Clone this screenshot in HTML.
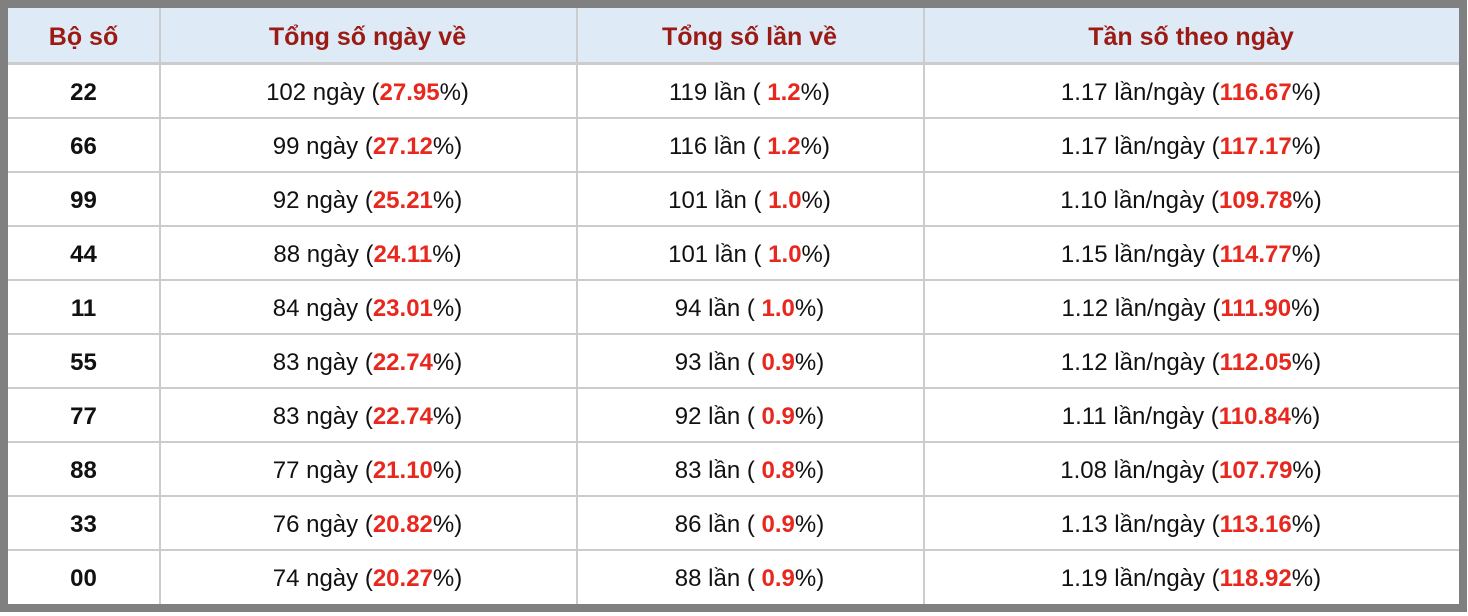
<!DOCTYPE html>
<html><head><meta charset="utf-8"><style>
body{margin:0;width:1468px;height:616px;background:#fff;overflow:hidden;font-family:Helvetica,Arial,"Liberation Sans",sans-serif}
#o{position:absolute;left:0;top:0;width:1451px;height:596px;border:8px solid #808080;background:#fff;overflow:hidden}
.r{position:absolute;left:0;width:1451px;height:52px;border-bottom:2px solid #ccc}
.h{top:0;height:54px;background:#deebf7;border-bottom:3px solid #ccc}
.c{position:absolute;top:2px;height:100%;display:flex;align-items:center;justify-content:center;font-size:24px;color:#111;font-family:Helvetica,Arial,"Liberation Sans",sans-serif}
.c1{left:0;width:151px;font-weight:bold}
.c2{left:151px;width:417px}
.c3{left:568px;width:347px}
.c4{left:915px;width:536px}
.v{position:absolute;top:0;width:2px;height:100%;background:#ccc}
.h .c{color:#9b1b14;font-weight:bold;font-size:25px}
b{color:#e8281e}
</style></head><body><div id="o">
<div class="r h"><div class="c c1">Bộ số</div><div class="c c2">Tổng số ngày về</div><div class="c c3">Tổng số lần về</div><div class="c c4">Tần số theo ngày</div></div>
<div class="r" style="top:57px"><div class="c c1">22</div><div class="c c2">102 ngày (<b>27.95</b>%)</div><div class="c c3">119 lần (&nbsp;<b>1.2</b>%)</div><div class="c c4">1.17 lần/ngày (<b>116.67</b>%)</div></div>
<div class="r" style="top:111px"><div class="c c1">66</div><div class="c c2">99 ngày (<b>27.12</b>%)</div><div class="c c3">116 lần (&nbsp;<b>1.2</b>%)</div><div class="c c4">1.17 lần/ngày (<b>117.17</b>%)</div></div>
<div class="r" style="top:165px"><div class="c c1">99</div><div class="c c2">92 ngày (<b>25.21</b>%)</div><div class="c c3">101 lần (&nbsp;<b>1.0</b>%)</div><div class="c c4">1.10 lần/ngày (<b>109.78</b>%)</div></div>
<div class="r" style="top:219px"><div class="c c1">44</div><div class="c c2">88 ngày (<b>24.11</b>%)</div><div class="c c3">101 lần (&nbsp;<b>1.0</b>%)</div><div class="c c4">1.15 lần/ngày (<b>114.77</b>%)</div></div>
<div class="r" style="top:273px"><div class="c c1">11</div><div class="c c2">84 ngày (<b>23.01</b>%)</div><div class="c c3">94 lần (&nbsp;<b>1.0</b>%)</div><div class="c c4">1.12 lần/ngày (<b>111.90</b>%)</div></div>
<div class="r" style="top:327px"><div class="c c1">55</div><div class="c c2">83 ngày (<b>22.74</b>%)</div><div class="c c3">93 lần (&nbsp;<b>0.9</b>%)</div><div class="c c4">1.12 lần/ngày (<b>112.05</b>%)</div></div>
<div class="r" style="top:381px"><div class="c c1">77</div><div class="c c2">83 ngày (<b>22.74</b>%)</div><div class="c c3">92 lần (&nbsp;<b>0.9</b>%)</div><div class="c c4">1.11 lần/ngày (<b>110.84</b>%)</div></div>
<div class="r" style="top:435px"><div class="c c1">88</div><div class="c c2">77 ngày (<b>21.10</b>%)</div><div class="c c3">83 lần (&nbsp;<b>0.8</b>%)</div><div class="c c4">1.08 lần/ngày (<b>107.79</b>%)</div></div>
<div class="r" style="top:489px"><div class="c c1">33</div><div class="c c2">76 ngày (<b>20.82</b>%)</div><div class="c c3">86 lần (&nbsp;<b>0.9</b>%)</div><div class="c c4">1.13 lần/ngày (<b>113.16</b>%)</div></div>
<div class="r" style="top:543px;border-bottom:none"><div class="c c1">00</div><div class="c c2">74 ngày (<b>20.27</b>%)</div><div class="c c3">88 lần (&nbsp;<b>0.9</b>%)</div><div class="c c4">1.19 lần/ngày (<b>118.92</b>%)</div></div>
<div class="v" style="left:151px"></div><div class="v" style="left:568px"></div><div class="v" style="left:915px"></div>
</div></body></html>
